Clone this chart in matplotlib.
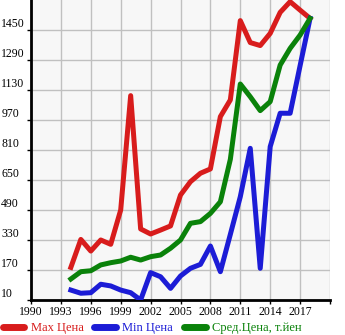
import matplotlib
matplotlib.use("Agg")
import matplotlib.pyplot as plt
from matplotlib.lines import Line2D

years = list(range(1994, 2019))
max_price = [184, 333, 271, 330, 307, 490, 1100, 389, 362, 383, 405, 570, 641, 686, 709,
             988, 1077, 1500, 1383, 1367, 1432, 1544, 1601, 1556, 1512]
min_price = [63, 46, 49, 94, 85, 63, 49, 10, 156, 134, 72, 138, 179, 200, 298,
             161, 360, 561, 819, 179, 828, 1006, 1006, 1260, 1512]
avg_price = [122, 161, 166, 197, 209, 218, 238, 223, 241, 250, 286, 330, 419, 428, 472,
             534, 760, 1162, 1094, 1020, 1068, 1263, 1352, 1423, 1512]
x_ticks = [1990, 1993, 1996, 1999, 2002, 2005, 2008, 2011, 2014, 2017]
y_ticks = [10, 170, 330, 490, 650, 810, 970, 1130, 1290, 1450]
labels = ["Max Цена", "Min Цена", "Сред.Цена, т.йен"]
colors = ["#d81c1c", "#1c1cd6", "#0a820a"]

plt.rcParams['font.family'] = ['Liberation Serif', 'DejaVu Serif']

fig = plt.figure(figsize=(3.45, 3.35), dpi=100)
W, H = 345, 335
ax = fig.add_axes([31 / W, (H - 300) / H, (330 - 31) / W, 300 / H])
ax.set_facecolor("#f7f7f7")

for series, c, lab in zip([max_price, min_price, avg_price], colors, labels):
    ax.plot(years, series, color=c, lw=3.6, label=lab, zorder=3)

ax.set_xlim(1990, 2020)
ax.set_ylim(10, 1610)
ax.set_xticks(x_ticks)
ax.set_yticks(y_ticks)
ax.set_xticks([2020], minor=True)
ax.grid(True, color="#c0c0c0", lw=1, which='both')
ax.set_axisbelow(True)
for s in ['top', 'right']:
    ax.spines[s].set_visible(False)
for s in ['left', 'bottom']:
    ax.spines[s].set_linewidth(2)
    ax.spines[s].set_color('black')

ax.tick_params(axis='x', length=3, width=1, labelsize=8.5, pad=1.5)
ax.tick_params(axis='x', which='minor', length=3, width=1)
ax.tick_params(axis='y', length=3, width=1, labelsize=8.5, pad=18.4)
for t in ax.get_yticklabels():
    t.set_horizontalalignment('left')
    t.set_verticalalignment('bottom')

handles = [Line2D([0], [0], color=c, lw=5, solid_capstyle='round') for c in colors]
leg = fig.legend(handles, labels, loc='lower left', bbox_to_anchor=(0.0, -0.005),
                 ncol=3, frameon=False, fontsize=9, handlelength=1.75,
                 handletextpad=0.5, columnspacing=0.85, borderaxespad=0.0,
                 borderpad=0.2)
for t, c in zip(leg.get_texts(), colors):
    t.set_color(c)

fig.savefig("out.png", dpi=100)
